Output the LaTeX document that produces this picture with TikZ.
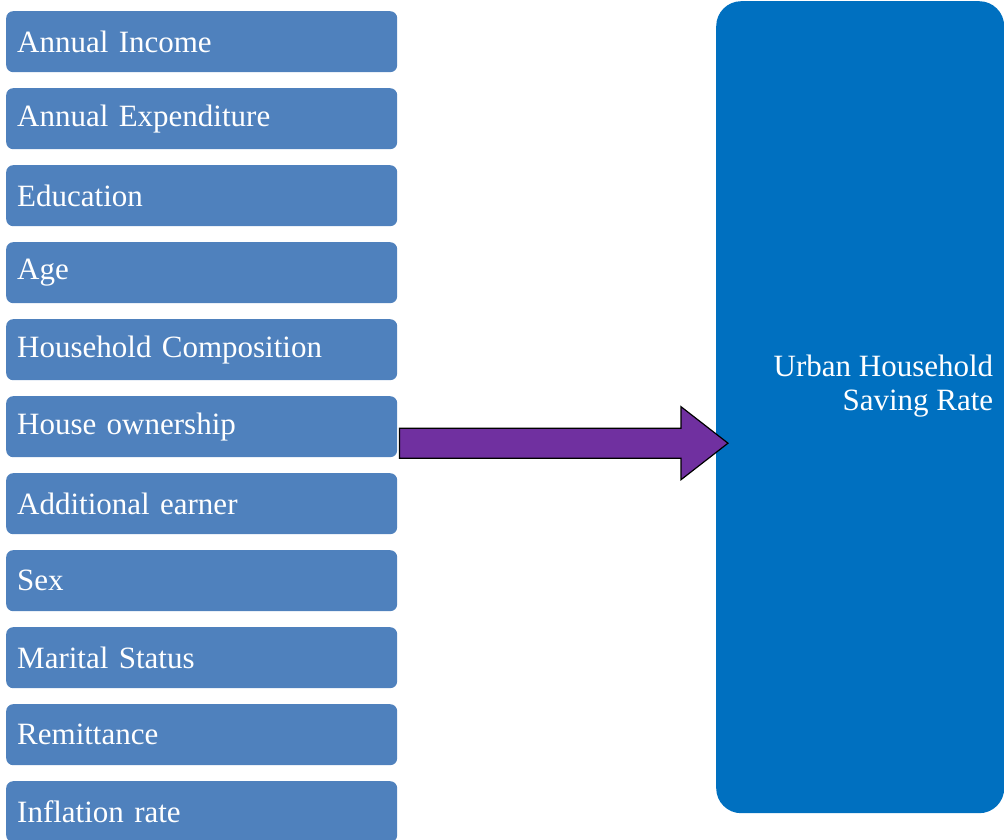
\documentclass[tikz,border=0pt]{standalone}
\usepackage{fontspec}
\setmainfont{Liberation Serif}
\definecolor{factorblue}{HTML}{4F81BD}
\definecolor{targetblue}{HTML}{0070C0}
\definecolor{arrowpurple}{HTML}{7030A0}
\begin{document}
\begin{tikzpicture}[x=1pt,y=-1pt,
  factor/.style={rectangle, rounded corners=7pt, fill=factorblue, text=white,
    anchor=north west, minimum width=391pt, minimum height=61pt,
    inner xsep=11pt, inner ysep=0pt, text width=369pt, align=left,
    font=\fontsize{31}{35}\selectfont},
  target/.style={rectangle, rounded corners=25pt, fill=targetblue,
    anchor=north west, minimum width=288pt, minimum height=812pt, inner sep=0pt},
  targettext/.style={text=white, align=right, anchor=east, inner sep=0pt,
    font=\fontsize{31}{34}\selectfont},
  blockarrow/.style={fill=arrowpurple, draw=black, line width=1.2pt, line join=miter}
]
\useasboundingbox (0,0) rectangle (1004,840);

% explanatory factors
\foreach \name/\txt [count=\i from 0] in {
  income/Annual Income,
  expend/Annual Expenditure,
  edu/Education,
  age/Age,
  comp/Household Composition,
  house/House ownership,
  earner/Additional earner,
  sex/Sex,
  marital/Marital Status,
  remit/Remittance,
  infl/Inflation rate}
  \node[factor] (\name) at (6, 11+77*\i) {\txt};

% dependent variable
\node[target] (rate) at (716,1) {};
\node[targettext] (ratetext) at ([xshift=-11pt, yshift=21pt]rate.east)
  {Urban Household\\Saving Rate};

% block arrow from the factors to the saving rate
\path (house.east) ++(2,16.5) coordinate (tail);
\path (rate.west) ++(12,36) coordinate (tip);
\draw[blockarrow]
  ([shift={(0,-15)}]tail) -- ([shift={(-47,-15)}]tip) -- ([shift={(-47,-36.5)}]tip)
  -- (tip) -- ([shift={(-47,36.5)}]tip) -- ([shift={(-47,15)}]tip)
  -- ([shift={(0,15)}]tail) -- cycle;
\end{tikzpicture}
\end{document}
